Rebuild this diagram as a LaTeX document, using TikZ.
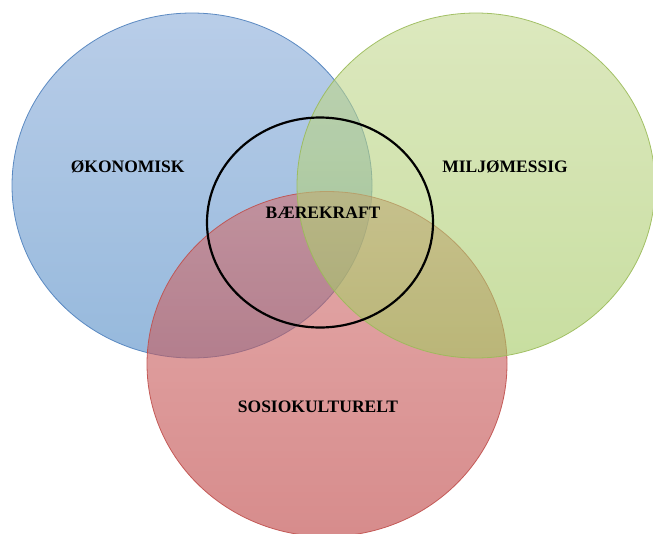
\documentclass[tikz,border=0pt]{standalone}
\usepackage{fontspec}
\setmainfont{Liberation Serif}
\usetikzlibrary{shapes.geometric}
\definecolor{okoblue}{RGB}{79,129,189}
\definecolor{okotop}{RGB}{138,172,217}
\definecolor{okobot}{RGB}{80,138,197}
\definecolor{miljgreen}{RGB}{155,187,89}
\definecolor{miljtop}{RGB}{197,217,147}
\definecolor{miljbot}{RGB}{163,200,97}
\definecolor{sosred}{RGB}{192,80,77}
\definecolor{sostop}{RGB}{210,113,113}
\definecolor{sosbot}{RGB}{188,63,63}
\begin{document}
\begin{tikzpicture}[x=1pt,y=-1pt,
  venn/.style={ellipse, inner sep=0pt, fill opacity=0.6, draw opacity=0.9, line width=0.8pt},
  lbl/.style={anchor=base, inner sep=0pt, font=\fontsize{17.5}{20}\selectfont\bfseries}]
\useasboundingbox (0,0) rectangle (653,533);
\node[venn, minimum width=360, minimum height=345, draw=okoblue, top color=okotop, bottom color=okobot] (oko) at (192,185.5){};
\node[venn, minimum width=360, minimum height=345, draw=sosred, top color=sostop, bottom color=sosbot] (sos) at (327,364){};
\node[venn, minimum width=358, minimum height=345, draw=miljgreen, top color=miljtop, bottom color=miljbot] (milj) at (476,185.5){};
\node[ellipse, inner sep=0pt, draw, line width=2.2pt, minimum width=226, minimum height=210] (baer) at (320,222.5){};

\node[lbl] (tokon) at (127.7,172.5){ØKONOMISK};
\node[lbl] (tmilj) at (505,172.5){MILJØMESSIG};
\node[lbl] (tbaer) at (323,218){BÆREKRAFT};
\node[lbl] (tsos) at (318,412){SOSIOKULTURELT};

\end{tikzpicture}
\end{document}
